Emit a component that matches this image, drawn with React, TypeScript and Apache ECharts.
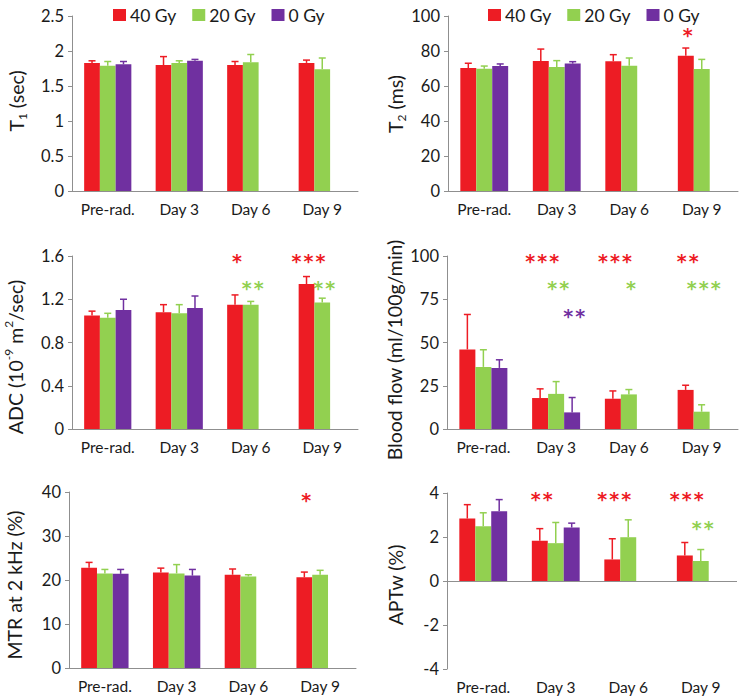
import React, { useEffect, useRef } from 'react';
import * as echarts from 'echarts';

const categories = ['Pre-rad.', 'Day 3', 'Day 6', 'Day 9'];
const groupNames = ['40 Gy', '20 Gy', '0 Gy'];
const groupColors = ['#ED1C24', '#92D050', '#7030A0'];

type Star = { cat: number; group: number; n: number; y: number };

// T1 (sec)
const t1Mean40 = [1.83, 1.80, 1.80, 1.83];
const t1Sd40 = [0.03, 0.12, 0.05, 0.04];
const t1Mean20 = [1.79, 1.83, 1.84, 1.74];
const t1Sd20 = [0.06, 0.03, 0.11, 0.16];
const t1Mean0 = [1.81, 1.86, null, null];
const t1Sd0 = [0.04, 0.02, null, null];
const t1Stars: Star[] = [];

// T2 (ms)
const t2Mean40 = [70.3, 74.3, 74.1, 77.3];
const t2Sd40 = [2.7, 6.8, 3.8, 4.4];
const t2Mean20 = [69.9, 70.9, 71.6, 69.7];
const t2Sd20 = [1.5, 3.6, 4.4, 5.5];
const t2Mean0 = [71.4, 72.8, null, null];
const t2Sd0 = [1.2, 1.1, null, null];
const t2Stars: Star[] = [{ cat: 3, group: 0, n: 1, y: 91.4 }];

// ADC (10^-9 m2/sec)
const adcMean40 = [1.05, 1.08, 1.15, 1.34];
const adcSd40 = [0.04, 0.07, 0.09, 0.07];
const adcMean20 = [1.03, 1.07, 1.15, 1.17];
const adcSd20 = [0.04, 0.08, 0.03, 0.04];
const adcMean0 = [1.10, 1.12, null, null];
const adcSd0 = [0.10, 0.11, null, null];
const adcStars: Star[] = [
  { cat: 2, group: 0, n: 1, y: 1.59 },
  { cat: 2, group: 1, n: 2, y: 1.34 },
  { cat: 3, group: 0, n: 3, y: 1.59 },
  { cat: 3, group: 1, n: 2, y: 1.34 },
];

// Blood flow (ml/100g/min)
const bfMean40 = [46.0, 17.9, 17.5, 22.6];
const bfSd40 = [20.2, 5.3, 4.5, 2.7];
const bfMean20 = [35.9, 20.3, 20.0, 10.0];
const bfSd20 = [9.9, 7.1, 2.8, 4.0];
const bfMean0 = [35.3, 9.6, null, null];
const bfSd0 = [4.7, 8.6, null, null];
const bfStars: Star[] = [
  { cat: 1, group: 0, n: 3, y: 99.4 },
  { cat: 1, group: 1, n: 2, y: 83.7 },
  { cat: 1, group: 2, n: 2, y: 67.8 },
  { cat: 2, group: 0, n: 3, y: 99.4 },
  { cat: 2, group: 1, n: 1, y: 83.7 },
  { cat: 3, group: 0, n: 2, y: 99.4 },
  { cat: 3, group: 1, n: 3, y: 83.7 },
];

// MTR at 2 kHz (%)
const mtrMean40 = [22.8, 21.7, 21.2, 20.6];
const mtrSd40 = [1.2, 1.0, 1.3, 1.2];
const mtrMean20 = [21.5, 21.5, 20.8, 21.2];
const mtrSd20 = [0.9, 2.0, 0.4, 1.0];
const mtrMean0 = [21.4, 21.0, null, null];
const mtrSd0 = [1.0, 1.4, null, null];
const mtrStars: Star[] = [{ cat: 3, group: 0, n: 1, y: 39.2 }];

// APTw (%)
const aptMean40 = [2.84, 1.83, 0.98, 1.16];
const aptSd40 = [0.63, 0.55, 0.94, 0.59];
const aptMean20 = [2.49, 1.72, 1.99, 0.91];
const aptSd20 = [0.61, 0.94, 0.79, 0.52];
const aptMean0 = [3.17, 2.43, null, null];
const aptSd0 = [0.53, 0.20, null, null];
const aptStars: Star[] = [
  { cat: 1, group: 0, n: 2, y: 3.9 },
  { cat: 2, group: 0, n: 3, y: 3.9 },
  { cat: 3, group: 0, n: 3, y: 3.9 },
  { cat: 3, group: 1, n: 2, y: 2.61 },
];

const FONT = 'Lato';
const AXIS_COLOR = '#8f8f8f';
const TEXT_COLOR = '#1a1a1a';
const BAR_FRACTION = 0.22;
const groupOffsets = [-BAR_FRACTION, 0, BAR_FRACTION];

const panels = [
  {
    means: [t1Mean40, t1Mean20, t1Mean0], sds: [t1Sd40, t1Sd20, t1Sd0], stars: t1Stars,
    min: 0, max: 2.5, interval: 0.5,
    grid: { left: 72, top: 16, width: 286, height: 175 },
    title: '{m|T}{sub|1}{m| (sec)}', tx: 16, ty: 101, legend: 108, zeroLine: false,
  },
  {
    means: [t2Mean40, t2Mean20, t2Mean0], sds: [t2Sd40, t2Sd20, t2Sd0], stars: t2Stars,
    min: 0, max: 100, interval: 20,
    grid: { left: 448, top: 16, width: 290, height: 175 },
    title: '{m|T}{sub|2}{m| (ms)}', tx: 395, ty: 104, legend: 483, zeroLine: false,
  },
  {
    means: [adcMean40, adcMean20, adcMean0], sds: [adcSd40, adcSd20, adcSd0], stars: adcStars,
    min: 0, max: 1.6, interval: 0.4,
    grid: { left: 72, top: 256, width: 286, height: 173 },
    title: '{m|ADC (10}{sup|-9}{m| m}{sup|2}{m|/sec)}', tx: 15, ty: 357, legend: null, zeroLine: false,
  },
  {
    means: [bfMean40, bfMean20, bfMean0], sds: [bfSd40, bfSd20, bfSd0], stars: bfStars,
    min: 0, max: 100, interval: 25,
    grid: { left: 447, top: 256, width: 291, height: 173 },
    title: '{m|Blood flow (ml/100g/min)}', tx: 394, ty: 350, legend: null, zeroLine: false,
  },
  {
    means: [mtrMean40, mtrMean20, mtrMean0], sds: [mtrSd40, mtrSd20, mtrSd0], stars: mtrStars,
    min: 0, max: 40, interval: 10,
    grid: { left: 69, top: 492, width: 287, height: 176 },
    title: '{m|MTR at 2 kHz (%)}', tx: 14, ty: 585, legend: null, zeroLine: false,
  },
  {
    means: [aptMean40, aptMean20, aptMean0], sds: [aptSd40, aptSd20, aptSd0], stars: aptStars,
    min: -4, max: 4, interval: 2,
    grid: { left: 447, top: 493, width: 290, height: 176 },
    title: '{m|APTw (%)}', tx: 395, ty: 585, legend: null, zeroLine: true,
  },
];

function buildOption() {
  const grid: any[] = [];
  const xAxis: any[] = [];
  const yAxis: any[] = [];
  const series: any[] = [];
  const legend: any[] = [];
  const graphic: any[] = [];

  panels.forEach((p, pi) => {
    grid.push({ ...p.grid, containLabel: false });
    xAxis.push({
      type: 'category', gridIndex: pi, data: categories,
      axisLine: { show: !p.zeroLine, onZero: false, lineStyle: { color: AXIS_COLOR, width: 1 } },
      axisTick: { show: false },
      axisLabel: { color: TEXT_COLOR, fontFamily: FONT, fontSize: 15.5, margin: 10 },
    });
    yAxis.push({
      type: 'value', gridIndex: pi, min: p.min, max: p.max, interval: p.interval,
      axisLine: { show: true, lineStyle: { color: AXIS_COLOR, width: 1 } },
      axisTick: { show: true, length: 4, lineStyle: { color: AXIS_COLOR } },
      splitLine: { show: false },
      axisLabel: { color: TEXT_COLOR, fontFamily: FONT, fontSize: 16.5, margin: 8 },
    });
    p.means.forEach((m, gi) => {
      const s: any = {
        type: 'bar', name: groupNames[gi], xAxisIndex: pi, yAxisIndex: pi,
        data: m, barWidth: BAR_FRACTION * 100 + '%', barGap: '0%',
        itemStyle: { color: groupColors[gi] },
      };
      if (p.zeroLine && gi === 0) {
        s.markLine = {
          silent: true, symbol: 'none', label: { show: false },
          lineStyle: { color: AXIS_COLOR, width: 1, type: 'solid' },
          data: [{ yAxis: 0 }],
        };
      }
      series.push(s);
    });
    p.means.forEach((m, gi) => {
      const sd = p.sds[gi];
      const data: number[][] = [];
      m.forEach((v, ci) => {
        if (v != null && sd[ci] != null) data.push([ci, (v as number) + (sd[ci] as number), v as number]);
      });
      const color = groupColors[gi];
      const off = groupOffsets[gi];
      series.push({
        type: 'custom', name: groupNames[gi] + ' SD', xAxisIndex: pi, yAxisIndex: pi,
        data, silent: true,
        renderItem: (params: any, api: any) => {
          const cat = api.value(0);
          const top = api.coord([cat, api.value(1)]);
          const base = api.coord([cat, api.value(2)]);
          const band = api.size([1, 0])[0];
          const x = top[0] + off * band;
          return {
            type: 'group',
            children: [
              { type: 'line', shape: { x1: x, y1: base[1], x2: x, y2: top[1] }, style: { stroke: color, lineWidth: 1.5 } },
              { type: 'line', shape: { x1: x - 3.5, y1: top[1], x2: x + 3.5, y2: top[1] }, style: { stroke: color, lineWidth: 1.5 } },
            ],
          };
        },
      });
    });
    if (p.stars.length) {
      const stars = p.stars;
      series.push({
        type: 'custom', name: 'significance', xAxisIndex: pi, yAxisIndex: pi,
        data: stars.map((s) => [s.cat, s.y]), silent: true, clip: false,
        renderItem: (params: any, api: any) => {
          const s = stars[params.dataIndex];
          const pt = api.coord([api.value(0), api.value(1)]);
          const band = api.size([1, 0])[0];
          const cx = pt[0] + groupOffsets[s.group] * band + 2;
          const children: any[] = [];
          for (let k = 0; k < s.n; k++) {
            children.push({
              type: 'text',
              x: cx + (k - (s.n - 1) / 2) * 12,
              y: pt[1] + 4,
              style: {
                text: '*', fill: groupColors[s.group], fontSize: 19, fontFamily: 'DejaVu Sans', fontWeight: 'bold',
                align: 'center', verticalAlign: 'middle', textAlign: 'center', textVerticalAlign: 'middle',
              },
            });
          }
          return { type: 'group', children };
        },
      });
    }
    if (p.legend != null) {
      legend.push({
        data: groupNames, left: p.legend, top: 1, icon: 'rect', itemWidth: 13, itemHeight: 12, itemGap: 16,
        textStyle: { fontFamily: FONT, fontSize: 17.5, color: TEXT_COLOR, padding: [0, 0, 0, -1] },
        selectedMode: false,
      });
    }
    graphic.push({
      type: 'text', x: p.tx, y: p.ty, rotation: Math.PI / 2, silent: true,
      style: {
        text: p.title, fill: TEXT_COLOR, fontFamily: FONT, fontSize: 19.5,
        align: 'center', verticalAlign: 'middle', textAlign: 'center', textVerticalAlign: 'middle',
        rich: {
          m: { fontFamily: FONT, fontSize: 19.5, color: TEXT_COLOR, lineHeight: 25 },
          sub: { fontFamily: FONT, fontSize: 12, color: TEXT_COLOR, verticalAlign: 'bottom', lineHeight: 15 },
          sup: { fontFamily: FONT, fontSize: 12, color: TEXT_COLOR, verticalAlign: 'top', lineHeight: 15 },
        },
      },
    });
  });

  return {
    animation: false,
    backgroundColor: '#ffffff',
    textStyle: { fontFamily: FONT },
    grid, xAxis, yAxis, series, legend, graphic,
  };
}

export default function App() {
  const ref = useRef<HTMLDivElement>(null);
  useEffect(() => {
    if (!ref.current) return;
    const chart = echarts.init(ref.current, undefined, { renderer: 'svg' });
    chart.setOption(buildOption());
    return () => chart.dispose();
  }, []);
  return (
    <div
      ref={ref}
      style={{ position: 'absolute', left: 0, top: 0, width: 740, height: 699, background: '#fff' }}
    />
  );
}
